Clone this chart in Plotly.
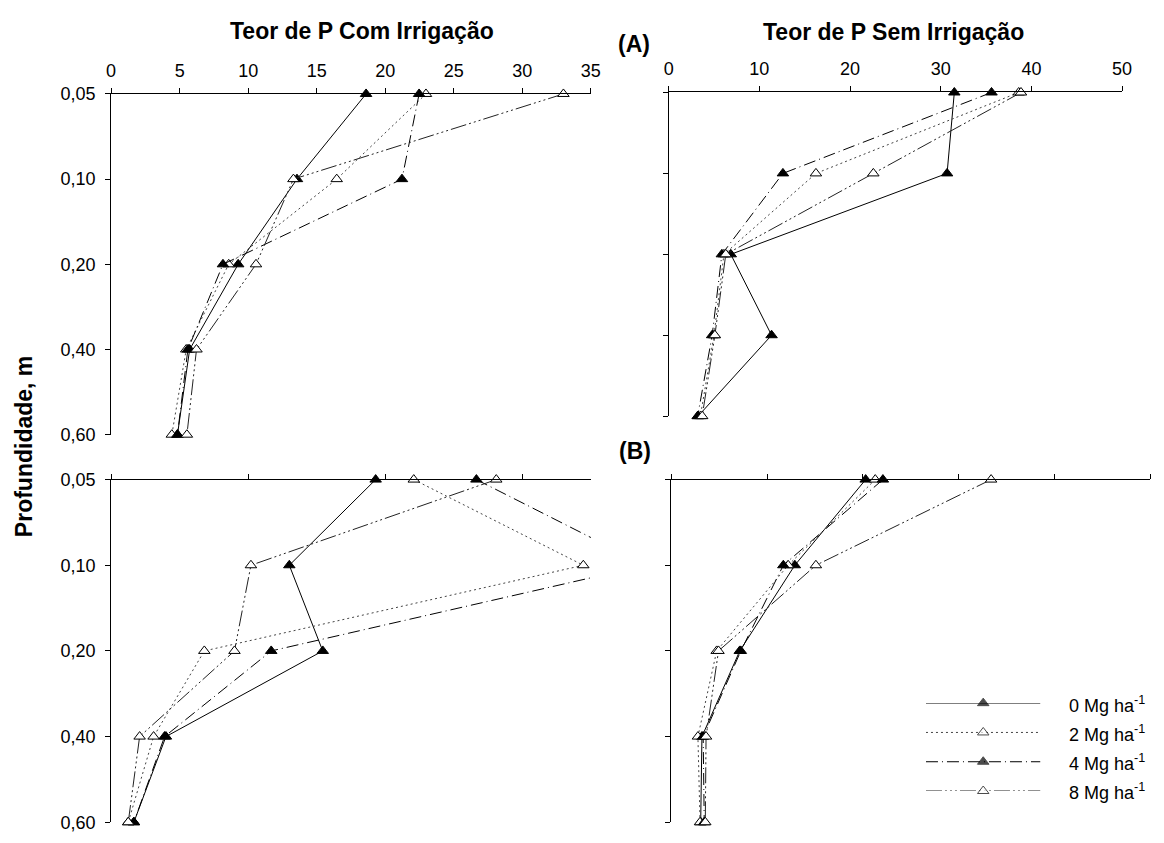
import plotly.graph_objects as go

W, H = 1164, 843

# ---------------- data ----------------
depths = ["0,05", "0,10", "0,20", "0,40", "0,60"]
doses = ["0", "2", "4", "8"]

# (A) Com irrigação
com_A_0 = [18.6, 13.56, 9.27, 5.73, 4.84]
com_A_2 = [22.97, 16.46, 8.58, 5.48, 4.43]
com_A_4 = [22.47, 21.22, 8.16, 5.60, 4.84]
com_A_8 = [33.0, 13.3, 10.57, 6.23, 5.53]

# (A) Sem irrigação
sem_A_0 = [31.5, 30.7, 6.85, 11.35, 3.25]
sem_A_2 = [38.6, 16.24, 6.1, 5.0, 3.5]
sem_A_4 = [35.6, 12.6, 5.87, 4.8, 3.2]
sem_A_8 = [38.85, 22.57, 6.3, 5.1, 3.7]

# (B) Com irrigação
com_B_0 = [19.3, 13.0, 15.44, 4.0, 1.66]
com_B_2 = [22.08, 34.45, 6.8, 3.1, 1.25]
com_B_4 = [26.65, 39.0, 11.68, 3.9, 1.66]
com_B_8 = [28.1, 10.2, 9.0, 2.08, 1.25]

# (B) Sem irrigação
sem_B_0 = [20.3, 12.9, 7.15, 3.2, 3.07]
sem_B_2 = [21.3, 12.2, 4.74, 2.78, 3.0]
sem_B_4 = [22.1, 11.7, 7.26, 3.33, 3.44]
sem_B_8 = [33.4, 15.1, 4.93, 3.63, 3.55]

# ---------------- styles ----------------
styles = {
    "0": dict(dash="solid", color="#000000", fill="#000000"),
    "2": dict(dash="2px,3px", color="#444444", fill="#ffffff"),
    "4": dict(dash="12px,4px,1px,4px", color="#000000", fill="#000000"),
    "8": dict(dash="16px,3px,2px,3px,2px,3px,2px,3px", color="#222222", fill="#ffffff"),
}

FONT = "Liberation Sans, Arial, Helvetica, sans-serif"


def px_x(p):
    return p / W


def px_y(p):
    return 1 - p / H


panels = [
    # (axis suffix, data dict, x range, dtick, show labels, x domain px, y domain px)
    ("", {"0": com_A_0, "2": com_A_2, "4": com_A_4, "8": com_A_8}, [0, 35], 5, True, (107.5, 593.5), (86, 435)),
    ("2", {"0": sem_A_0, "2": sem_A_2, "4": sem_A_4, "8": sem_A_8}, [0, 50], 10, True, (672.3, 1131.7), (84.5, 416)),
    ("3", {"0": com_B_0, "2": com_B_2, "4": com_B_4, "8": com_B_8}, [0, 35], 10, False, (107.5, 593.5), (481, 832)),
    ("4", {"0": sem_B_0, "2": sem_B_2, "4": sem_B_4, "8": sem_B_8}, [0, 50], 10, False, (675, 1160), (481, 832)),
]

fig = go.Figure()
layout = {}
ypos = list(range(len(depths)))

order = ["0", "2", "4", "8"]
for suf, data, xr, dt, showlab, xd, yd in panels:
    xa = "x" + suf
    ya = "y" + suf
    for d in order:
        st = styles[d]
        fig.add_trace(go.Scatter(
            x=data[d], y=ypos, xaxis=xa, yaxis=ya, mode="lines+markers",
            line=dict(color=st["color"], width=1, dash=st["dash"]),
            marker=dict(symbol="triangle-up", size=10, color=st["fill"],
                        line=dict(color="#000000", width=1)),
            cliponaxis=False, showlegend=False, hoverinfo="skip"))
    layout["xaxis" + suf] = dict(
        domain=[px_x(xd[0]), px_x(xd[1])], range=xr, side="top", anchor=ya,
        showline=True, linecolor="#000", linewidth=1, ticks="outside",
        ticklen=5, tickcolor="#000", dtick=dt, tick0=0, showgrid=False,
        zeroline=False, showticklabels=showlab, ticklabelstandoff=4,
        tickfont=dict(family=FONT, size=18, color="#000"))
    layout["yaxis" + suf] = dict(
        domain=[px_y(yd[1]), px_y(yd[0])], range=[4, 0], anchor=xa,
        showline=True, linecolor="#000", linewidth=1, ticks="outside",
        ticklen=5, tickcolor="#000", tickvals=ypos, ticktext=depths,
        showticklabels=(suf in ("", "3")), showgrid=False, zeroline=False,
        ticklabelstandoff=6,
        tickfont=dict(family=FONT, size=18, color="#000"))

# ---------------- custom legend ----------------
leg_y = [3, 2, 1, 0]
for d, yy in zip(order, leg_y):
    st = styles[d]
    fig.add_trace(go.Scatter(
        x=[0, 0.5, 1], y=[yy, yy, yy], xaxis="x5", yaxis="y5", mode="lines+markers",
        line=dict(color=("#555555" if d == "0" else st["color"]), width=(1.5 if d == "0" else 1),
                  dash=st["dash"]),
        marker=dict(symbol="triangle-up", size=[0, 10, 0], color=st["fill"],
                    line=dict(color="#000000", width=[0, 1, 0])),
        cliponaxis=False, showlegend=False, hoverinfo="skip"))
layout["xaxis5"] = dict(domain=[px_x(933), px_x(1049)], range=[0, 1], visible=False, anchor="y5")
layout["yaxis5"] = dict(domain=[px_y(800), px_y(710)], range=[0, 3], visible=False, anchor="x5")

annotations = []
for d, py in zip(order, [710, 740, 770, 800]):
    annotations.append(dict(
        x=px_x(1076), y=px_y(py + 1), xref="paper", yref="paper", xanchor="left", yanchor="middle",
        text=f"{d} Mg ha<sup>-1</sup>", showarrow=False,
        font=dict(family=FONT, size=18, color="#000")))

TITLE = dict(family=FONT, size=23, color="#000")
C = dict(xref="paper", yref="paper", xanchor="center", yanchor="middle", showarrow=False, font=TITLE)
annotations += [
    dict(x=px_x(362), y=px_y(21), text="<b>Teor de P Com Irrigação</b>", **C),
    dict(x=px_x(900), y=px_y(23), text="<b>Teor de P Sem Irrigação</b>", **C),
    dict(x=px_x(637), y=px_y(35), text="<b>(A)</b>", **C),
    dict(x=px_x(638), y=px_y(452), text="<b>(B)</b>", **C),
    dict(x=px_x(20), y=px_y(447), text="<b>Profundidade, m</b>", textangle=-90, **C),
]

fig.update_layout(
    width=W, height=H, margin=dict(l=0, r=0, t=0, b=0),
    paper_bgcolor="#ffffff", plot_bgcolor="#ffffff",
    annotations=annotations, **layout)

fig.write_html("out.html")
